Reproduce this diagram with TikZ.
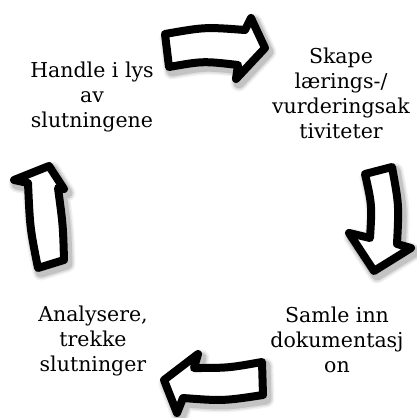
\documentclass[tikz,border=0pt]{standalone}
\usepackage{fontspec}
\setmainfont{DejaVu Serif}
\tikzset{
  lbl/.style={align=center, inner sep=0pt, anchor=north, font=\fontsize{20.5}{25}\selectfont},
  arrowbox/.style={draw=black, fill=white, line width=8pt, line join=round},
  shadowline/.style={draw=black, line join=round, shift={(3,4)}}
}
\newcommand\blockarrow[1]{%
  \draw[shadowline, line width=17pt, draw opacity=0.05] #1;
  \draw[shadowline, line width=14pt, draw opacity=0.08] #1;
  \draw[shadowline, line width=11pt, draw opacity=0.12] #1;
  \draw[arrowbox] #1;
}
\begin{document}
\begin{tikzpicture}[x=1pt,y=-1pt]
\useasboundingbox (0,0) rectangle (416,418);
\fill[white] (0,0) rectangle (416,418);
% text blocks
\node[lbl] (handle) at (92,61.4) {Handle i lys\\av\\slutningene};
\node[lbl] (skape) at (341,47.4) {Skape\\lærings-/\\vurderingsak\\tiviteter};
\node[lbl] (samle) at (337,306.4) {Samle inn\\dokumentasj\\on};
\node[lbl] (analyse) at (93,305.4) {Analysere,\\trekke\\slutninger};
% top arrow
\blockarrow{(165,34) .. controls (205,27) .. (245,30) -- (251,18) -- (265,48) -- (236,79) -- (238,65) .. controls (203,61) .. (169,67) -- cycle}
% right arrow
\blockarrow{(365,174) -- (392,167) .. controls (399,205) .. (397,244) -- (411,248) -- (374,271) -- (349,233) -- (370,238) .. controls (372,205) .. (365,174) -- cycle}
% bottom arrow
\blockarrow{(262,362) -- (263,395) .. controls (223,401) .. (183,398) -- (177,413) -- (164,380) -- (198,354) -- (194,368) .. controls (228,368) .. (262,362) -- cycle}
% left arrow
\blockarrow{(38,268) -- (64,260) .. controls (63,225) .. (58,188) -- (64,189) -- (49,166) -- (14,180) -- (28,183) .. controls (30,228) .. (38,268) -- cycle}
\end{tikzpicture}
\end{document}
